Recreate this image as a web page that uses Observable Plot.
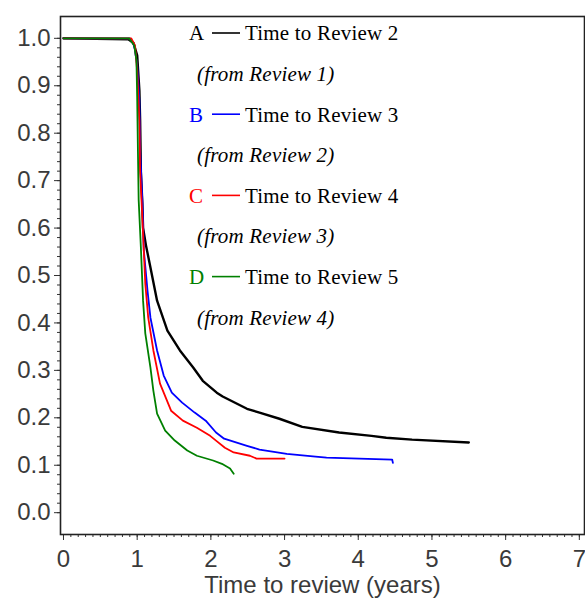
<!DOCTYPE html>
<html>
<head>
<meta charset="utf-8">
<script src="https://cdn.jsdelivr.net/npm/d3@7"></script>
<script src="https://cdn.jsdelivr.net/npm/@observablehq/plot@0.6"></script>
<style>
  html, body { margin: 0; padding: 0; background: #fff; }
  #chart svg { display: block; }
</style>
</head>
<body>
<div id="chart"></div>
<script>
// ---- Data ----
const seriesKeys = ["A", "B", "C", "D"];
const seriesColors = ["#000000", "#0000ff", "#ff0000", "#008000"];
const seriesLabels = ["Time to Review 2", "Time to Review 3", "Time to Review 4", "Time to Review 5"];
const seriesFrom = ["(from Review 1)", "(from Review 2)", "(from Review 3)", "(from Review 4)"];

const timeA = [0, 0.88, 0.95, 1.0, 1.03, 1.04, 1.05, 1.07, 1.08, 1.12, 1.18, 1.27, 1.41, 1.58, 1.76, 1.89, 2.08, 2.16, 2.49, 2.66, 2.93, 3.24, 3.74, 4.18, 4.38, 4.73, 5.5];
const survA = [1.0, 0.998, 0.99, 0.964, 0.89, 0.827, 0.72, 0.652, 0.6, 0.563, 0.517, 0.447, 0.384, 0.342, 0.306, 0.278, 0.253, 0.245, 0.219, 0.211, 0.198, 0.181, 0.169, 0.162, 0.158, 0.154, 0.148];

const timeB = [0, 0.9, 0.96, 1.0, 1.03, 1.04, 1.07, 1.09, 1.14, 1.18, 1.27, 1.36, 1.47, 1.61, 1.78, 1.93, 2.07, 2.18, 2.49, 2.66, 3.03, 3.42, 3.57, 4.46, 4.47];
const survB = [1.0, 1.0, 0.985, 0.943, 0.87, 0.764, 0.658, 0.553, 0.468, 0.411, 0.342, 0.289, 0.253, 0.232, 0.211, 0.194, 0.169, 0.156, 0.141, 0.133, 0.124, 0.118, 0.116, 0.112, 0.105];

const timeC = [0, 0.92, 0.97, 1.0, 1.03, 1.04, 1.07, 1.11, 1.15, 1.22, 1.31, 1.46, 1.62, 1.81, 1.99, 2.07, 2.19, 2.31, 2.53, 2.62, 3.0];
const survC = [1.0, 1.0, 0.985, 0.932, 0.827, 0.72, 0.622, 0.483, 0.411, 0.342, 0.272, 0.215, 0.194, 0.179, 0.162, 0.152, 0.137, 0.127, 0.12, 0.114, 0.114];

const timeD = [0, 0.89, 0.96, 0.99, 1.0, 1.01, 1.02, 1.05, 1.08, 1.11, 1.18, 1.22, 1.27, 1.38, 1.51, 1.68, 1.81, 2.03, 2.15, 2.26, 2.31];
const survD = [1.0, 1.0, 0.985, 0.954, 0.876, 0.764, 0.66, 0.56, 0.447, 0.378, 0.306, 0.257, 0.209, 0.173, 0.152, 0.131, 0.12, 0.11, 0.103, 0.093, 0.082];

const xTicks = [0, 1, 2, 3, 4, 5, 6, 7];
const yTicks = [0.0, 0.1, 0.2, 0.3, 0.4, 0.5, 0.6, 0.7, 0.8, 0.9, 1.0];

// ---- Build table for Plot ----
const allTimes = [timeA, timeB, timeC, timeD];
const allSurv = [survA, survB, survC, survD];
const rows = seriesKeys.flatMap((k, i) =>
  allTimes[i].map((t, j) => ({ series: k, t, s: allSurv[i][j] }))
);

const xMinor = d3.range(0, 70.5, 1).map(v => v / 10);
const yMinor = d3.range(0, 50.5, 1).map(v => v / 50);

const font = "'Liberation Sans', Arial, sans-serif";

const chart = Plot.plot({
  width: 585,
  height: 605,
  marginLeft: 60,
  marginRight: 1,
  marginTop: 16,
  marginBottom: 71,
  style: { fontFamily: font, background: "#fff", overflow: "visible" },
  x: { domain: [-0.0405, 7.07], label: null },
  y: { domain: [-0.046, 1.046], label: null },
  marks: [
    Plot.axisY(yMinor, { tickSize: 3, text: null, stroke: "#333", label: null }),
    Plot.axisY(yTicks, { tickSize: 6, tickPadding: 4, tickFormat: d3.format(".1f"), fontSize: 24, fill: "#3a3a3a", stroke: "#333", label: null }),
    Plot.axisX(xMinor, { tickSize: 3, text: null, stroke: "#333", label: null }),
    Plot.axisX(xTicks, { tickSize: 6, tickPadding: 9, tickFormat: d3.format("d"), fontSize: 24, fill: "#3a3a3a", stroke: "#333", label: null }),
    Plot.text(["Time to review (years)"], { frameAnchor: "bottom", dy: 58, fontSize: 24, fill: "#3a3a3a" }),
    Plot.frame({ stroke: "#222", strokeWidth: 1.6 }),
    ...seriesKeys.map((k, i) =>
      Plot.line(rows.filter(r => r.series === k), {
        x: "t", y: "s", stroke: seriesColors[i], strokeWidth: i === 0 ? 2.4 : 1.8
      })
    )
  ]
});

document.getElementById("chart").appendChild(chart);

// ---- Legend (text block inside plot area) ----
const svg = d3.select(chart);
const leg = svg.append("g")
  .attr("font-family", "'Liberation Serif', 'Times New Roman', serif")
  .attr("font-size", 21)
  .attr("text-anchor", "start");
const rowH = 40.6;
seriesKeys.forEach((k, i) => {
  const y0 = 33 + i * 2 * rowH;
  leg.append("text").attr("x", 189).attr("y", y0).attr("dy", "0.35em")
    .attr("fill", seriesColors[i]).text(k);
  leg.append("line").attr("x1", 212).attr("x2", 240).attr("y1", y0).attr("y2", y0)
    .attr("stroke", seriesColors[i]).attr("stroke-width", 1.6);
  leg.append("text").attr("x", 245).attr("y", y0).attr("dy", "0.35em")
    .attr("letter-spacing", 0.2)
    .attr("fill", "#000").text(seriesLabels[i]);
  leg.append("text").attr("x", 197).attr("y", y0 + rowH).attr("dy", "0.35em")
    .attr("letter-spacing", 0.2)
    .attr("fill", "#000").attr("font-style", "italic").text(seriesFrom[i]);
});
</script>
</body>
</html>
